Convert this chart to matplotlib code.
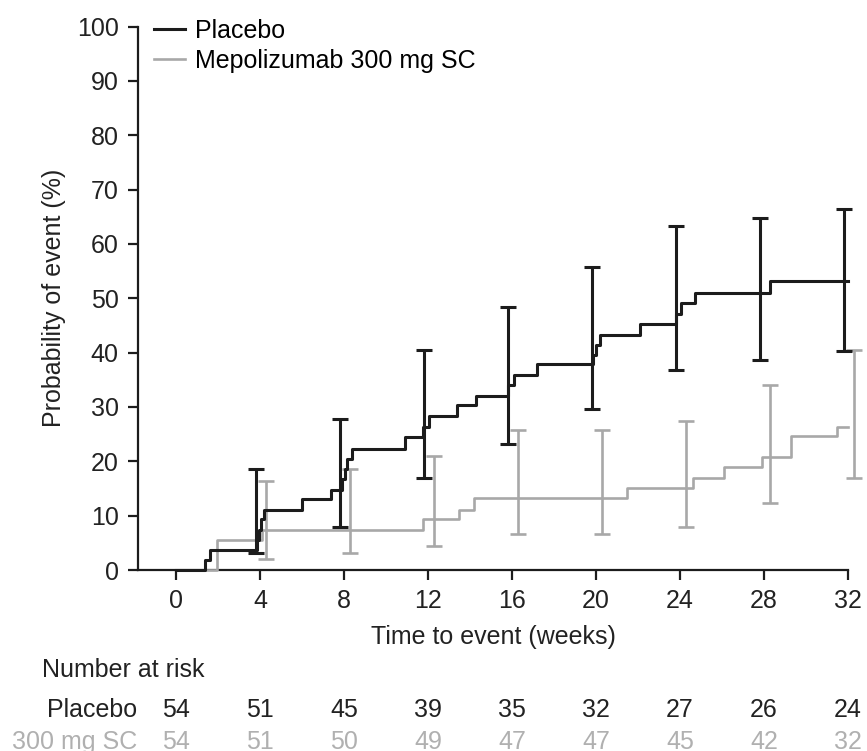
import numpy as np
import matplotlib
matplotlib.use("Agg")
import matplotlib.pyplot as plt

plt.rcParams["font.family"] = ["Liberation Sans", "DejaVu Sans"]

# Kaplan-Meier style step curves (weeks, cumulative probability of event %)
placebo_t = [0, 1.4, 1.6, 3.85, 3.95, 4.05, 4.2, 6.0, 7.4, 7.9, 8.05, 8.15, 8.4,
             10.9, 11.75, 12.05, 13.4, 14.3, 15.8, 16.1, 17.2, 19.85, 20.0, 20.2,
             22.1, 23.8, 24.05, 24.7, 28.3, 32]
placebo_p = [0, 1.85, 3.7, 5.6, 7.4, 9.3, 11.1, 13.0, 14.8, 16.7, 18.5, 20.4, 22.2,
             24.4, 26.3, 28.3, 30.3, 32.1, 34.0, 35.8, 37.9, 39.6, 41.4, 43.3,
             45.2, 47.1, 49.1, 51.0, 53.1, 53.1]

mepo_t = [0, 1.97, 4.1, 11.75, 13.5, 14.2, 21.5, 24.6, 26.1, 27.9, 29.3, 31.5, 32]
mepo_p = [0, 5.56, 7.4, 9.3, 11.1, 13.3, 15.0, 16.9, 18.9, 20.8, 24.6, 26.4, 26.4]

# 95% CI at each 4-week visit
ci_weeks = [4, 8, 12, 16, 20, 24, 28, 32]
placebo_lo = [3.2, 8.0, 16.9, 23.1, 29.7, 36.8, 38.6, 40.3]
placebo_hi = [18.5, 27.8, 40.5, 48.4, 55.8, 63.3, 64.7, 66.5]
mepo_lo = [2.1, 3.1, 4.5, 6.6, 6.6, 8.0, 12.3, 17.0]
mepo_hi = [16.4, 18.6, 21.0, 25.7, 25.7, 27.5, 34.1, 40.5]

# number at risk
risk_weeks = [0, 4, 8, 12, 16, 20, 24, 28, 32]
risk_placebo = [54, 51, 45, 39, 35, 32, 27, 26, 24]
risk_mepo = [54, 51, 50, 49, 47, 47, 45, 42, 32]

BLACK = "#1c1c1c"
GRAY = "#a8a8a8"
TXT = "#222222"
FS = 18

fig = plt.figure(figsize=(8.67, 7.51), dpi=100)
ax = fig.add_axes([0.1592, 0.241, 0.8188, 0.7237])

ax.step(placebo_t, placebo_p, where="post", color=BLACK, lw=2.2,
        label="Placebo", zorder=4, clip_on=False)
ax.step(mepo_t, mepo_p, where="post", color=GRAY, lw=1.9,
        label="Mepolizumab 300 mg SC", zorder=3, clip_on=False)

cw = np.array(ci_weeks, dtype=float)
for lo, hi, dx, col, lw in [(placebo_lo, placebo_hi, -0.2, BLACK, 2.2),
                            (mepo_lo, mepo_hi, 0.3, GRAY, 1.9)]:
    lo = np.array(lo)
    hi = np.array(hi)
    ax.errorbar(cw + dx, (lo + hi) / 2, yerr=(hi - lo) / 2, fmt="none",
                ecolor=col, elinewidth=lw, capsize=6, capthick=lw,
                clip_on=False, zorder=4 if col == BLACK else 3)

ax.set_xlim(-1.81, 32)
ax.set_ylim(0, 100)
ax.set_xticks(risk_weeks)
ax.set_yticks(range(0, 101, 10))
for s in ["top", "right"]:
    ax.spines[s].set_visible(False)
for s in ["left", "bottom"]:
    ax.spines[s].set_linewidth(1.6)
    ax.spines[s].set_color(BLACK)
ax.tick_params(labelsize=FS, width=1.6, length=7, colors=BLACK,
               labelcolor=TXT, pad=7)

ax.set_xlabel("Time to event (weeks)", fontsize=FS, color=TXT, labelpad=8)
ax.set_ylabel("Probability of event (%)", fontsize=FS, color=TXT, labelpad=8)

ax.legend(loc="upper left", bbox_to_anchor=(0.022, 1.014), frameon=False,
          fontsize=FS, handlelength=1.25, handletextpad=0.4, labelspacing=0.25,
          borderpad=0, borderaxespad=0)

tr = ax.get_xaxis_transform()
ax.text(-6.4, -0.184, "Number at risk", transform=tr, fontsize=FS,
        color=TXT, ha="left", va="center")
ax.text(-1.85, -0.2576, "Placebo", transform=tr, fontsize=FS,
        color=TXT, ha="right", va="center")
ax.text(-1.85, -0.3165, "300 mg SC", transform=tr, fontsize=FS,
        color="#b0b0b0", ha="right", va="center")
for w, a, b in zip(risk_weeks, risk_placebo, risk_mepo):
    ax.text(w, -0.2576, str(a), transform=tr, fontsize=FS, color=TXT,
            ha="center", va="center")
    ax.text(w, -0.3165, str(b), transform=tr, fontsize=FS, color="#b0b0b0",
            ha="center", va="center")

fig.savefig("out.png", dpi=100)
